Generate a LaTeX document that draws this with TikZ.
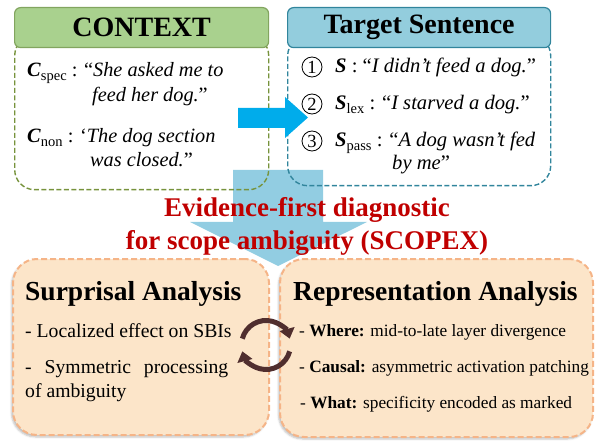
\documentclass[tikz,border=0pt]{standalone}
\usepackage{fontspec}
\setmainfont{Liberation Serif}
\usetikzlibrary{arrows.meta, shadows.blur}

\definecolor{ctxfill}{RGB}{169,209,142}
\definecolor{ctxedge}{RGB}{130,165,95}
\definecolor{ctxdash}{RGB}{119,147,60}
\definecolor{tgtfill}{RGB}{147,205,221}
\definecolor{tgtedge}{RGB}{49,133,156}
\definecolor{flowblue}{RGB}{146,205,226}
\definecolor{pushblue}{RGB}{0,172,235}
\definecolor{anafill}{RGB}{252,229,201}
\definecolor{anaedge}{RGB}{245,180,135}
\definecolor{titlered}{RGB}{192,0,0}
\definecolor{loopbrown}{RGB}{80,46,46}

\newcommand{\setfs}[2]{\fontsize{#1}{#2}\selectfont}
\newcommand{\lowsub}[1]{\raisebox{-3.5pt}{\setfs{14.5}{14.5}#1}}

\tikzset{
  hdbox/.style={draw, line width=1.2pt, rounded corners=6pt, minimum height=40pt,
    anchor=north west, inner sep=0pt, font=\setfs{28}{32}\bfseries},
  panel/.style={draw, dash pattern=on 5pt off 2.5pt, line width=1.4pt,
    rounded corners=20pt, anchor=north west},
  anabox/.style={draw=anaedge, fill=anafill, dash pattern=on 6pt off 3pt, line width=2pt,
    rounded corners=24pt, anchor=north west,
    blur shadow={shadow xshift=-1.5pt, shadow yshift=-2pt, shadow opacity=25}},
  txt/.style={anchor=base west, inner sep=0pt, align=left},
  numc/.style={circle, draw, line width=0.8pt, minimum size=20pt, inner sep=0pt,
    font=\setfs{18.5}{18.5}},
  loopar/.style={loopbrown, line width=5pt, -{Triangle[width=15pt, length=10pt]}},
}

\begin{document}
\begin{tikzpicture}[x=1pt, y=-1pt]
  \useasboundingbox (0,0) rectangle (595,441);

  % wide arrow down to the analyses
  \fill[flowblue] (233,170) -- (323,170) -- (323,222) -- (367,222) -- (278,266)
    -- (190,222) -- (233,222) -- cycle;

  % top panels
  \node[panel, draw=ctxdash, minimum width=254pt, minimum height=154pt] (ctxpanel) at (14,35) {};
  \node[panel, draw=tgtedge, minimum width=263pt, minimum height=150pt] (tgtpanel) at (287,35) {};
  \node[hdbox, draw=ctxedge, fill=ctxfill, minimum width=254pt] (ctxhd) at (14,7) {CONTEXT};
  \node[hdbox, draw=tgtedge, fill=tgtfill, minimum width=263pt] (tgthd) at (287,7) {Target Sentence};

  % context feeds the sentence
  \fill[pushblue] (238,108) -- (285,108) -- (285,97) -- (308,117.5) -- (285,138)
    -- (285,128) -- (238,128) -- cycle;

  % bottom panels
  \node[anabox, minimum width=256pt, minimum height=176pt] (surpbox) at (12,258) {};
  \node[anabox, minimum width=313pt, minimum height=178pt] (reprbox) at (279,258) {};

  % context sentences (base is the last line)
  \node[txt, font=\setfs{20.3}{25}] (cspec) at (27,102)
    {\textbf{\textit{C}}\lowsub{spec} : “\textit{She asked me to}\\
     \hspace*{65pt}\textit{feed her dog.}”};
  \node[txt, font=\setfs{20.3}{24}] (cnon) at (27,167)
    {\textbf{\textit{C}}\lowsub{non} : ‘\textit{The dog section}\\
     \hspace*{63pt}\textit{was closed.}”};

  % target sentences
  \node[numc] (n1) at (312,67) {1};
  \node[numc] (n2) at (312,104) {2};
  \node[numc] (n3) at (312,141) {3};
  \node[txt, font=\setfs{20.6}{23}] (sbase) at (335,73)
    {\textbf{\textit{S}} : “\textit{I didn’t feed a dog.}”};
  \node[txt, font=\setfs{20.6}{23}] (slex) at (335,110)
    {\textbf{\textit{S}}\lowsub{lex} : “\textit{I starved a dog.}”};
  \node[txt, font=\setfs{20.6}{23}] (spass) at (335,170)
    {\textbf{\textit{S}}\lowsub{pass} : “\textit{A dog wasn’t fed}\\
     \hspace*{57pt}\textit{by me}”};

  % method name
  \node[anchor=base, inner sep=0pt, text=titlered, font=\setfs{27}{32}\bfseries] (ttl1) at (307,217)
    {Evidence-first diagnostic};
  \node[anchor=base, inner sep=0pt, text=titlered, font=\setfs{27}{32}\bfseries] (ttl2) at (307,249)
    {for scope ambiguity (SCOPEX)};

  % surprisal side
  \node[txt, font=\setfs{27.5}{30}\bfseries] (surphd) at (25,300) {Surprisal Analysis};
  \node[txt, font=\setfs{19.7}{24}] (sa1) at (25,337) {- Localized effect on SBIs};
  \node[txt, font=\setfs{19.7}{24}] (sa2) at (25,397)
    {\makebox[203pt][s]{- Symmetric processing}\\of ambiguity};

  % representation side
  \node[txt, font=\setfs{27.5}{30}\bfseries] (reprhd) at (293,300) {Representation Analysis};
  \node[txt, font=\setfs{17.3}{20}] (ra1) at (299,336) {- \textbf{Where:} mid-to-late layer divergence};
  \node[txt, font=\setfs{17.3}{20}] (ra2) at (299,372) {- \textbf{Causal:} asymmetric activation patching};
  \node[txt, font=\setfs{17.3}{20}] (ra3) at (300,408) {- \textbf{What:} specificity encoded as marked};

  % two-way cycle between the analyses
  \coordinate (cyc) at (266,345);
  \draw[loopar] (cyc) ++(-165:24.5) arc[start angle=-165, end angle=-15, radius=24.5];
  \draw[loopar] (cyc) ++(15:24.5) arc[start angle=15, end angle=165, radius=24.5];
\end{tikzpicture}
\end{document}
